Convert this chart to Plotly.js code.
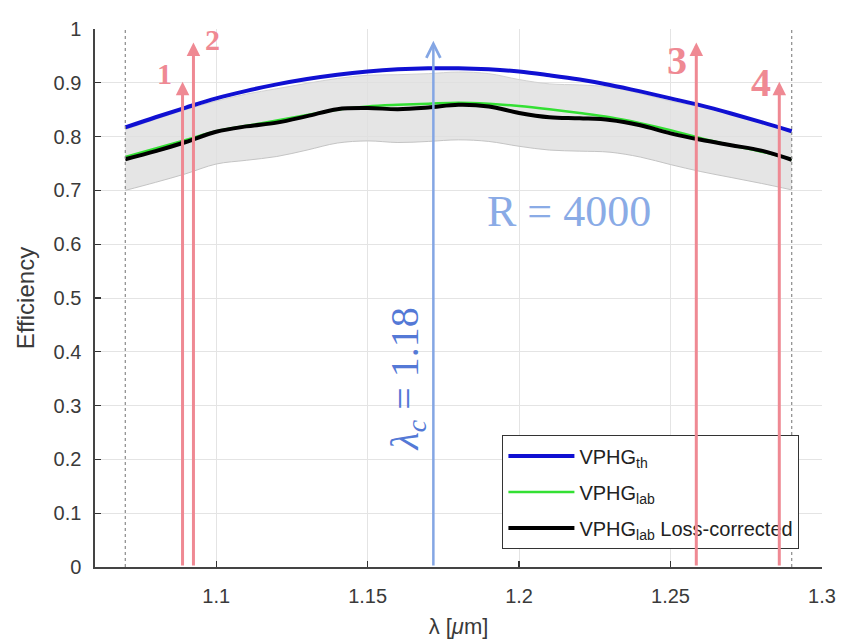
<!DOCTYPE html>
<html>
<head>
<meta charset="utf-8">
<script src="https://cdn.plot.ly/plotly-3.0.1.min.js"></script>
<style>
  html, body { margin: 0; padding: 0; background: #fff; }
  #chart { width: 856px; height: 644px; }
</style>
</head>
<body>
<div id="chart"></div>
<script>
// wavelength samples [um]
const lambda = [1.07, 1.08, 1.09, 1.10, 1.11, 1.12, 1.13, 1.14, 1.15, 1.16, 1.17, 1.18,
                1.19, 1.20, 1.21, 1.22, 1.23, 1.24, 1.25, 1.26, 1.27, 1.28, 1.29];

// efficiency curves
const effTheory = [0.817, 0.836, 0.854, 0.871, 0.885, 0.897, 0.907, 0.915, 0.921, 0.925, 0.927, 0.927,
                   0.925, 0.921, 0.914, 0.906, 0.896, 0.884, 0.871, 0.858, 0.843, 0.827, 0.810];
const effLab = [0.762, 0.778, 0.794, 0.810, 0.820, 0.830, 0.840, 0.850, 0.856, 0.859, 0.861, 0.863,
                0.861, 0.857, 0.851, 0.844, 0.836, 0.825, 0.812, 0.797, 0.784, 0.772, 0.758];
const effCorrected = [0.758, 0.773, 0.790, 0.809, 0.819, 0.826, 0.838, 0.851, 0.853, 0.851, 0.854, 0.859,
                      0.856, 0.844, 0.836, 0.834, 0.831, 0.821, 0.806, 0.794, 0.784, 0.774, 0.757];
// uncertainty band around the corrected curve
const bandLow = [0.700, 0.715, 0.731, 0.749, 0.756, 0.763, 0.775, 0.788, 0.792, 0.789, 0.791, 0.794,
                 0.791, 0.782, 0.775, 0.773, 0.771, 0.762, 0.748, 0.735, 0.724, 0.713, 0.701];
const bandHigh = [0.813, 0.832, 0.850, 0.866, 0.879, 0.889, 0.899, 0.908, 0.914, 0.915, 0.917, 0.920,
                  0.917, 0.906, 0.898, 0.896, 0.892, 0.880, 0.866, 0.855, 0.842, 0.826, 0.808];

const xTicks = [1.1, 1.15, 1.2, 1.25, 1.3];
const xTickText = ['1.1', '1.15', '1.2', '1.25', '1.3'];
const bandLimits = [1.07, 1.29];

// order arrows: label, wavelength, arrow tip, label position
const orderNames = ['1', '2', '3', '4'];
const orderLambda = [1.0889, 1.0925, 1.2585, 1.2859];
const orderTip = [0.902, 0.975, 0.975, 0.902];
const orderLabelX = [1.0829, 1.0987, 1.2521, 1.2799];
const orderLabelY = [0.918, 0.980, 0.941, 0.901];
const orderLabelSize = [30, 30, 40, 40];

const centralLambda = 1.1717;
const centralTip = 0.978;

const pink = '#ef8993';
const lightBlue = '#84a6e4';

const traces = [
  {
    x: lambda, y: bandLow, type: 'scatter', mode: 'lines',
    line: { color: '#c4c4c4', width: 1, shape: 'spline' },
    showlegend: false, hoverinfo: 'skip'
  },
  {
    x: lambda, y: bandHigh, type: 'scatter', mode: 'lines',
    line: { color: '#d2d2d2', width: 1, shape: 'spline' },
    fill: 'tonexty', fillcolor: 'rgba(222,222,222,0.8)',
    showlegend: false, hoverinfo: 'skip'
  },
  {
    x: lambda, y: effTheory, type: 'scatter', mode: 'lines',
    name: 'VPHG<sub>th</sub>', legendgroup: 'a',
    line: { color: '#1010d2', width: 4, shape: 'spline' }
  },
  {
    x: lambda, y: effLab, type: 'scatter', mode: 'lines',
    name: 'VPHG<sub>lab</sub>', legendgroup: 'b',
    line: { color: '#33e033', width: 2.5, shape: 'spline' }
  },
  {
    x: lambda, y: effCorrected, type: 'scatter', mode: 'lines',
    name: 'VPHG<sub>lab</sub> Loss-corrected', legendgroup: 'c',
    line: { color: '#000000', width: 4, shape: 'spline' }
  }
];

const annotations = [];
orderLambda.forEach((lx, i) => {
  annotations.push({
    x: lx, y: orderTip[i], ax: lx, ay: 0,
    xref: 'x', yref: 'y', axref: 'x', ayref: 'y',
    text: '', showarrow: true, arrowhead: 2, arrowsize: 0.9,
    arrowwidth: 3, arrowcolor: pink
  });
  annotations.push({
    x: orderLabelX[i], y: orderLabelY[i], xref: 'x', yref: 'y',
    text: '<b>' + orderNames[i] + '</b>', showarrow: false,
    font: { family: 'Liberation Serif, DejaVu Serif, serif', size: orderLabelSize[i], color: pink }
  });
});
annotations.push({
  x: centralLambda, y: centralTip, ax: centralLambda, ay: 0,
  xref: 'x', yref: 'y', axref: 'x', ayref: 'y',
  text: '', showarrow: true, arrowhead: 5, arrowsize: 1.1,
  arrowwidth: 2.5, arrowcolor: lightBlue
});
annotations.push({
  x: 1.2164, y: 0.660, xref: 'x', yref: 'y',
  text: 'R = 4000', showarrow: false,
  font: { family: 'Liberation Serif, DejaVu Serif, serif', size: 44, color: '#8aabe6' }
});
annotations.push({
  x: 1.1631, y: 0.349, xref: 'x', yref: 'y',
  text: '<i>λ<sub>c</sub></i> = 1.18', showarrow: false, textangle: -90,
  font: { family: 'Liberation Serif, DejaVu Serif, serif', size: 40, color: '#5479d6' }
});

const shapes = bandLimits.map(lx => ({
  type: 'line', xref: 'x', yref: 'y', x0: lx, x1: lx, y0: 0, y1: 1,
  line: { color: '#8a8a8a', width: 1.2, dash: 'dot' }
}));

const layout = {
  width: 856, height: 644,
  margin: { l: 95, r: 34, t: 29, b: 77 },
  paper_bgcolor: '#fff', plot_bgcolor: '#fff',
  font: { family: 'Liberation Sans, Arial, sans-serif', size: 20, color: '#3a3a3a' },
  showlegend: true,
  legend: {
    x: 0.56, y: 0.245, xanchor: 'left', yanchor: 'top',
    traceorder: 'grouped', tracegroupgap: 7, itemwidth: 66,
    bgcolor: '#fff', bordercolor: '#333', borderwidth: 1.3,
    font: { size: 20, color: '#222' }
  },
  xaxis: {
    range: [1.06, 1.3], tickvals: xTicks, ticktext: xTickText,
    ticks: 'inside', ticklen: 6, tickwidth: 1.3, tickcolor: '#333',
    showline: true, linecolor: '#444', linewidth: 1.6,
    showgrid: true, gridcolor: '#e4e4e4', gridwidth: 1, zeroline: false,
    ticklabelstandoff: 10,
    title: { text: 'λ [<i>μ</i>m]', font: { size: 22, color: '#3a3a3a' }, standoff: 13 }
  },
  yaxis: {
    range: [0, 1], dtick: 0.1,
    ticks: 'inside', ticklen: 6, tickwidth: 1.3, tickcolor: '#333',
    showline: true, linecolor: '#444', linewidth: 1.6,
    showgrid: true, gridcolor: '#e4e4e4', gridwidth: 1, zeroline: false,
    ticklabelstandoff: 8,
    title: { text: 'Efficiency', font: { size: 24, color: '#3a3a3a' }, standoff: 12 }
  },
  annotations: annotations,
  shapes: shapes
};

Plotly.newPlot('chart', traces, layout, { displayModeBar: false, staticPlot: true });
</script>
</body>
</html>
